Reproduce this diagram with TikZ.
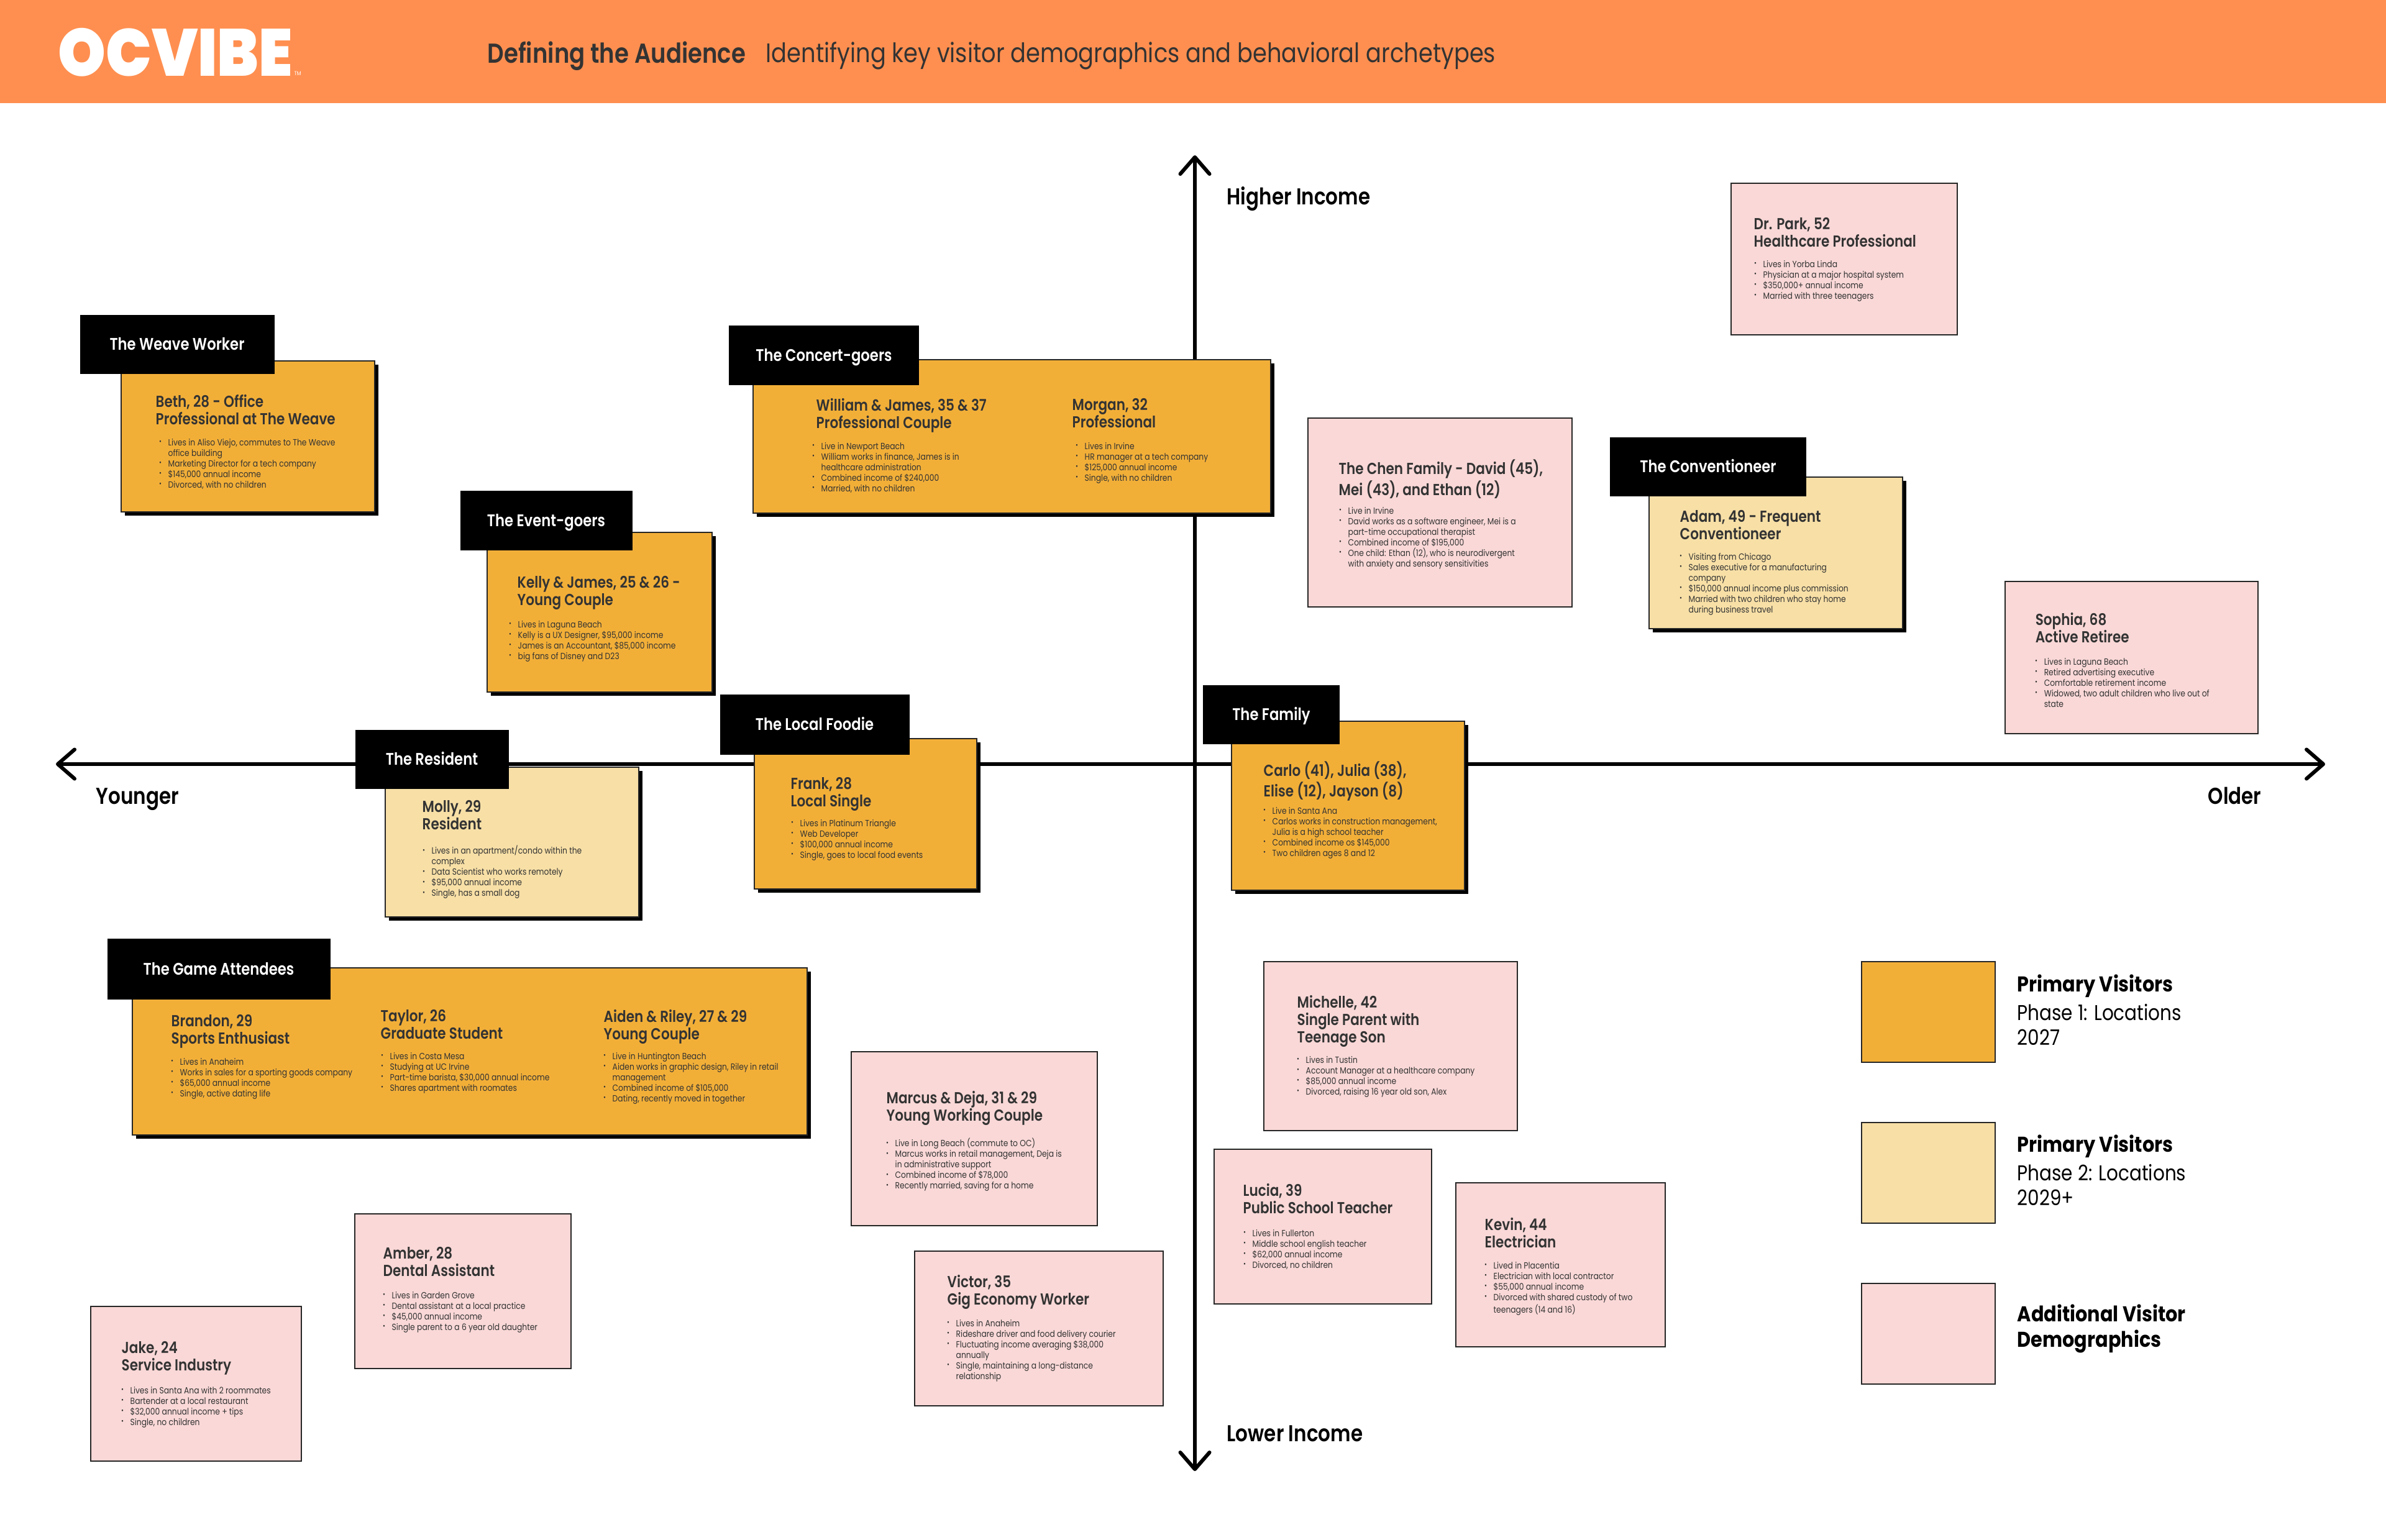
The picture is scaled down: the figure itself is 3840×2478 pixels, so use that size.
\documentclass[tikz,border=0pt]{standalone}
\usepackage{fontspec}
\usepackage{xcolor}
\usetikzlibrary{arrows.meta}
\setmainfont{Poppins}
\newfontfamily\headfont{Poppins SemiBold}[FakeStretch=0.84]
\newfontfamily\copyfont{Poppins}[FakeStretch=0.855]
\newfontfamily\keyfont{Poppins Bold}[FakeStretch=0.88]
\newfontfamily\markfont{Poppins Black}
\definecolor{bandorange}{HTML}{FF8F50}
\definecolor{phaseone}{HTML}{F2AF38}
\definecolor{phasetwo}{HTML}{F7DFA6}
\definecolor{extrapink}{HTML}{F9D8D7}
\definecolor{inkgray}{HTML}{333333}
\newcommand{\blt}{\llap{\raisebox{0.3ex}{\fontsize{3.2}{3.4}\selectfont•}\hspace{3pt}}}
\tikzset{
  ttl/.style={anchor=north west,inner sep=0pt,align=left,text=inkgray,yshift=3.3pt,
    font=\headfont\fontsize{7.3}{7.95}\selectfont,execute at begin node=\rule{0pt}{8pt}},
  blurb/.style={anchor=north west,inner sep=0pt,align=left,text=inkgray,yshift=1.6pt,
    font=\copyfont\fontsize{4.1}{4.84}\selectfont,execute at begin node=\rule{0pt}{6pt}},
  tag/.style={fill=black,text=white,inner sep=0pt,text height=5.4pt,text depth=0pt,
    font=\headfont\fontsize{7.7}{9}\selectfont},
  axislabel/.style={anchor=base west,inner sep=0pt,text=black,font=\headfont\fontsize{10.5}{12}\selectfont},
  keytext/.style={anchor=west,inner sep=0pt,align=left,text=black,font=\copyfont\fontsize{9.8}{11.6}\selectfont},
  boxedge/.style={draw=black!85,line width=0.025cm}
}
\begin{document}
\begin{tikzpicture}[x=0.01cm,y=-0.01cm]
    \useasboundingbox (0,0) rectangle (3840,2478);
    % header band
    \fill[bandorange] (0,0) rectangle (3840,166);
    \node[anchor=west,inner sep=0pt,text=white,xscale=0.91,font=\markfont\fontsize{30.5}{32}\selectfont] (ocvibe) at (93,84) {OCVIBE};
    \node[anchor=west,inner sep=0pt,text=white,font=\copyfont\fontsize{2.6}{3}\selectfont] (ocvibetm) at (473,118) {TM};
    \node[anchor=west,inner sep=0pt,text=inkgray,font=\headfont\fontsize{12.55}{15}\selectfont] (pagehead) at (784,90) {Defining the Audience};
    \node[anchor=west,inner sep=0pt,text=inkgray,font=\copyfont\fontsize{12.25}{15}\selectfont] (pagesub) at (1232,90) {Identifying key visitor demographics and behavioral archetypes};

    % axes
    \coordinate (ageleft) at (90,1230);
    \coordinate (ageright) at (3742,1230);
    \coordinate (inctop) at (1923,250);
    \coordinate (incbot) at (1923,2368);
    \draw[{Straight Barb[round,length=0.27cm,width=0.47cm]}-{Straight Barb[round,length=0.27cm,width=0.47cm]},line width=0.06cm] (ageleft) -- (ageright);
    \draw[{Straight Barb[round,length=0.27cm,width=0.47cm]}-{Straight Barb[round,length=0.27cm,width=0.47cm]},line width=0.06cm] (inctop) -- (incbot);
    \node[axislabel] (higher) at (1974,329) {Higher Income};
    \node[axislabel] (lower) at (1974,2320) {Lower Income};
    \node[axislabel] (younger) at (154,1294) {Younger};
    \node[axislabel] (older) at (3553,1294) {Older};

    % cards with a drop shadow
    \foreach \xa/\ya/\xb/\yb/\tone in {
        195/581/603/824/phaseone, 1212/579/2045/826/phaseone, 784/857/1146/1114/phaseone,
        2654/768/3062/1012/phasetwo, 620/1235/1028/1476/phasetwo, 1214/1189/1572/1431/phaseone,
        1982/1161/2357/1433/phaseone, 213/1558/1299/1827/phaseone} {
        \fill[black] (\xa+6,\ya+6) rectangle (\xb+6,\yb+6);
        \draw[boxedge,fill=\tone] (\xa,\ya) rectangle (\xb,\yb);
    }

    % flat pink cards
    \foreach \xa/\ya/\xb/\yb in {
        2786/295/3150/539, 2105/673/2530/977, 3227/936/3634/1181, 2034/1548/2442/1820,
        1954/1850/2304/2099, 2343/1904/2680/2168, 1370/1693/1766/1973, 1472/2014/1872/2263,
        571/1954/919/2203, 146/2103/485/2352} {
        \draw[boxedge,fill=extrapink] (\xa,\ya) rectangle (\xb,\yb);
    }

    % black name tags
    \foreach \nm/\cx/\cy/\w/\h/\txt in {
        weave/285/554/313/95/The Weave Worker, concert/1326/572/306/96/The Concert-goers,
        event/879/838/277/96/The Event-goers, conv/2749/751/316/95/The Conventioneer,
        resident/695/1222/247/95/The Resident, foodie/1311/1166/305/97/The Local Foodie,
        family/2046/1150/220/95/The Family, game/352/1560/359/98/The Game Attendees} {
        \node[tag,minimum width=\w*0.01cm,minimum height=\h*0.01cm] (\nm) at (\cx,\cy) {\txt};
    }

    % upper left quadrant
    \node[ttl] (beth) at (250,646) {Beth, 28 - Office\\Professional at The Weave};
    \node[blurb] (bethb) at (270,711) {\blt Lives in Aliso Viejo, commutes to The Weave\\office building\\\blt Marketing Director for a tech company\\\blt \$145,000 annual income\\\blt Divorced, with no children};
    \node[ttl] (william) at (1313,652) {William \& James, 35 \& 37\\Professional Couple};
    \node[blurb] (williamb) at (1321,717) {\blt Live in Newport Beach\\\blt William works in finance, James is in\\healthcare administration\\\blt Combined income of \$240,000\\\blt Married, with no children};
    \node[ttl] (morgan) at (1725,652) {Morgan, 32\\Professional};
    \node[blurb] (morganb) at (1745,717) {\blt Lives in Irvine\\\blt HR manager at a tech company\\\blt \$125,000 annual income\\\blt Single, with no children};
    \node[ttl] (kelly) at (832,938) {Kelly \& James, 25 \& 26 -\\Young Couple};
    \node[blurb] (kellyb) at (833,1004) {\blt Lives in Laguna Beach\\\blt Kelly is a UX Designer, \$95,000 income\\\blt James is an Accountant, \$85,000 income\\\blt big fans of Disney and D23};
    \node[ttl] (molly) at (679,1299) {Molly, 29\\Resident};
    \node[blurb] (mollyb) at (694,1366) {\blt Lives in an apartment/condo within the\\complex\\\blt Data Scientist who works remotely\\\blt \$95,000 annual income\\\blt Single, has a small dog};
    \node[ttl] (frank) at (1272,1262) {Frank, 28\\Local Single};
    \node[blurb] (frankb) at (1287,1324) {\blt Lives in Platinum Triangle\\\blt Web Developer\\\blt \$100,000 annual income\\\blt Single, goes to local food events};

    % upper right quadrant
    \node[ttl] (park) at (2822,361) {Dr. Park, 52\\Healthcare Professional};
    \node[blurb] (parkb) at (2837,424) {\blt Lives in Yorba Linda\\\blt Physician at a major hospital system\\\blt \$350,000+ annual income\\\blt Married with three teenagers};
    \node[ttl] (chen) at (2154,751) {The Chen Family - David (45),\\Mei (43), and Ethan (12)};
    \node[blurb] (chenb) at (2169,821) {\blt Live in Irvine\\\blt David works as a software engineer, Mei is a\\part-time occupational therapist\\\blt Combined income of \$195,000\\\blt One child: Ethan (12), who is neurodivergent\\with anxiety and sensory sensitivities};
    \node[ttl] (adam) at (2703,832) {Adam, 49 - Frequent\\Conventioneer};
    \node[blurb] (adamb) at (2717,895) {\blt Visiting from Chicago\\\blt Sales executive for a manufacturing\\company\\\blt \$150,000 annual income plus commission\\\blt Married with two children who stay home\\during business travel};
    \node[ttl] (sophia) at (3275,997) {Sophia, 68\\Active Retiree};
    \node[blurb] (sophiab) at (3289,1064) {\blt Lives in Laguna Beach\\\blt Retired advertising executive\\\blt Comfortable retirement income\\\blt Widowed, two adult children who live out of\\state};
    \node[ttl] (carlo) at (2033,1237) {Carlo (41), Julia (38),\\Elise (12), Jayson (8)};
    \node[blurb] (carlob) at (2047,1304) {\blt Live in Santa Ana\\\blt Carlos works in construction management,\\Julia is a high school teacher\\\blt Combined income os \$145,000\\\blt Two children ages 8 and 12};

    % lower left quadrant
    \node[ttl] (brandon) at (275,1644) {Brandon, 29\\Sports Enthusiast};
    \node[blurb] (brandonb) at (289,1708) {\blt Lives in Anaheim\\\blt Works in sales for a sporting goods company\\\blt \$65,000 annual income\\\blt Single, active dating life};
    \node[ttl] (taylor) at (612,1636) {Taylor, 26\\Graduate Student};
    \node[blurb] (taylorb) at (627,1699) {\blt Lives in Costa Mesa\\\blt Studying at UC Irvine\\\blt Part-time barista, \$30,000 annual income\\\blt Shares apartment with roomates};
    \node[ttl] (aiden) at (971,1636) {Aiden \& Riley, 27 \& 29\\Young Couple};
    \node[blurb] (aidenb) at (985,1699) {\blt Live in Huntington Beach\\\blt Aiden works in graphic design, Riley in retail\\management\\\blt Combined income of \$105,000\\\blt Dating, recently moved in together};
    \node[ttl] (marcus) at (1426,1767) {Marcus \& Deja, 31 \& 29\\Young Working Couple};
    \node[blurb] (marcusb) at (1440,1837) {\blt Live in Long Beach (commute to OC)\\\blt Marcus works in retail management, Deja is\\in administrative support\\\blt Combined income of \$78,000\\\blt Recently married, saving for a home};
    \node[ttl] (victor) at (1524,2063) {Victor, 35\\Gig Economy Worker};
    \node[blurb] (victorb) at (1538,2129) {\blt Lives in Anaheim\\\blt Rideshare driver and food delivery courier\\\blt Fluctuating income averaging \$38,000\\annually\\\blt Single, maintaining a long-distance\\relationship};
    \node[ttl] (amber) at (616,2018) {Amber, 28\\Dental Assistant};
    \node[blurb] (amberb) at (630,2084) {\blt Lives in Garden Grove\\\blt Dental assistant at a local practice\\\blt \$45,000 annual income\\\blt Single parent to a 6 year old daughter};
    \node[ttl] (jake) at (195,2170) {Jake, 24\\Service Industry};
    \node[blurb] (jakeb) at (209,2237) {\blt Lives in Santa Ana with 2 roommates\\\blt Bartender at a local restaurant\\\blt \$32,000 annual income + tips\\\blt Single, no children};

    % lower right quadrant
    \node[ttl] (michelle) at (2087,1613) {Michelle, 42\\Single Parent with\\Teenage Son};
    \node[blurb] (michelleb) at (2101,1705) {\blt Lives in Tustin\\\blt Account Manager at a healthcare company\\\blt \$85,000 annual income\\\blt Divorced, raising 16 year old son, Alex};
    \node[ttl] (lucia) at (2000,1916) {Lucia, 39\\Public School Teacher};
    \node[blurb] (luciab) at (2015,1984) {\blt Lives in Fullerton\\\blt Middle school english teacher\\\blt \$62,000 annual income\\\blt Divorced, no children};
    \node[ttl] (kevin) at (2389,1971) {Kevin, 44\\Electrician};
    \node[blurb] (kevinb) at (2403,2036) {\blt Lived in Placentia\\\blt Electrician with local contractor\\\blt \$55,000 annual income\\\blt Divorced with shared custody of two\\teenagers (14 and 16)};

    % legend
    \foreach \ya/\yb/\tone in {1548/1710/phaseone, 1807/1969/phasetwo, 2066/2228/extrapink} {
        \draw[boxedge,fill=\tone] (2996,\ya) rectangle (3211,\yb);
    }
    \node[keytext] (keyone) at (3246,1626) {{\keyfont Primary Visitors}\\[1.3pt]Phase 1: Locations\\2027};
    \node[keytext] (keytwo) at (3246,1884) {{\keyfont Primary Visitors}\\[1.3pt]Phase 2: Locations\\2029+};
    \node[keytext] (keythree) at (3246,2139) {{\keyfont Additional Visitor}\\{\keyfont Demographics}};
\end{tikzpicture}
\end{document}
